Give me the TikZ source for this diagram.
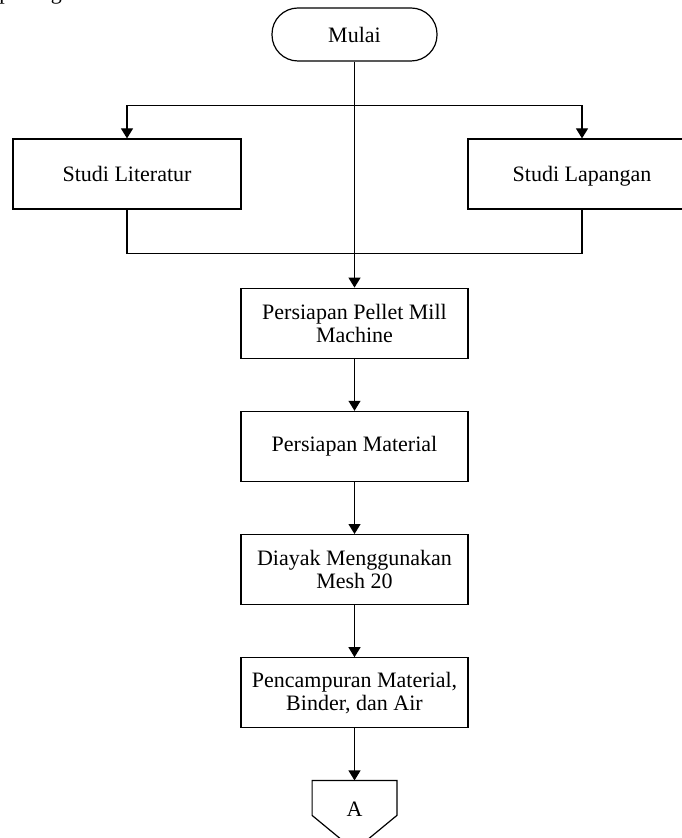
\documentclass[tikz,border=0pt]{standalone}
\usepackage{fontspec}
\setmainfont{Liberation Serif}
\usepackage{tikz}
\usetikzlibrary{
  arrows.meta,
  positioning
}
\tikzset{
  proses/.style={draw,line width=0.6pt,minimum width=113.5pt,minimum height=35pt,
    align=center,inner sep=2pt,font=\fontsize{11}{11.5}\selectfont},
  studi/.style={proses,minimum width=114pt,text height=9.3pt,text depth=2pt},
  terminal/.style={draw,line width=0.6pt,rounded corners=13pt,minimum width=82.5pt,
    minimum height=26.5pt,font=\fontsize{11}{11.5}\selectfont},
  konektor/.style={minimum width=42pt,minimum height=28pt,inner sep=0pt,
    font=\fontsize{11}{11.5}\selectfont},
  alur/.style={-{Triangle[length=5pt,width=6pt]},line width=0.6pt},
  garis/.style={line width=0.6pt}
}

\begin{document}
\begin{tikzpicture}[node distance=26pt]
  \useasboundingbox (0,0) rectangle (340.5pt,-419pt);
  \node[anchor=base west,inner sep=0pt,font=\fontsize{11}{11.5}\selectfont]
    (teks) at (-0.5pt,0pt) {pada\hskip 5pt gambar};
  \node[terminal] (mulai) at (177.25pt,-17.25pt) {Mulai};
  \node[studi] (lit) at (63.5pt,-87pt) {Studi Literatur};
  \node[studi] (lap) at (291pt,-87pt) {Studi Lapangan};
  \node[proses,below=113pt of mulai] (pellet) {Persiapan Pellet Mill\\Machine};
  \node[proses,below=of pellet] (material) {Persiapan Material};
  \node[proses,below=of material] (ayak) {Diayak Menggunakan\\Mesh 20};
  \node[proses,below=of ayak] (campur) {Pencampuran Material,\\Binder, dan Air};
  \node[konektor,below=of campur] (A) {A};
  \draw[garis] (A.north west) -- (A.north east) -- ([yshift=-17.5pt]A.north east)
    -- ([yshift=-35pt]A.north) -- ([yshift=-17.5pt]A.north west) -- cycle;

  \coordinate (pisah) at ([yshift=-22pt]mulai.south);
  \coordinate (gabung) at ([yshift=17pt]pellet.north);
  \draw[alur] (mulai) -- (pellet);
  \draw[alur] (pisah) -| (lit);
  \draw[alur] (pisah) -| (lap);
  \draw[garis] (lit) |- (gabung);
  \draw[garis] (lap) |- (gabung);
  \foreach \a/\b in {pellet/material,material/ayak,ayak/campur,campur/A}
    \draw[alur] (\a) -- (\b);
\end{tikzpicture}
\end{document}
